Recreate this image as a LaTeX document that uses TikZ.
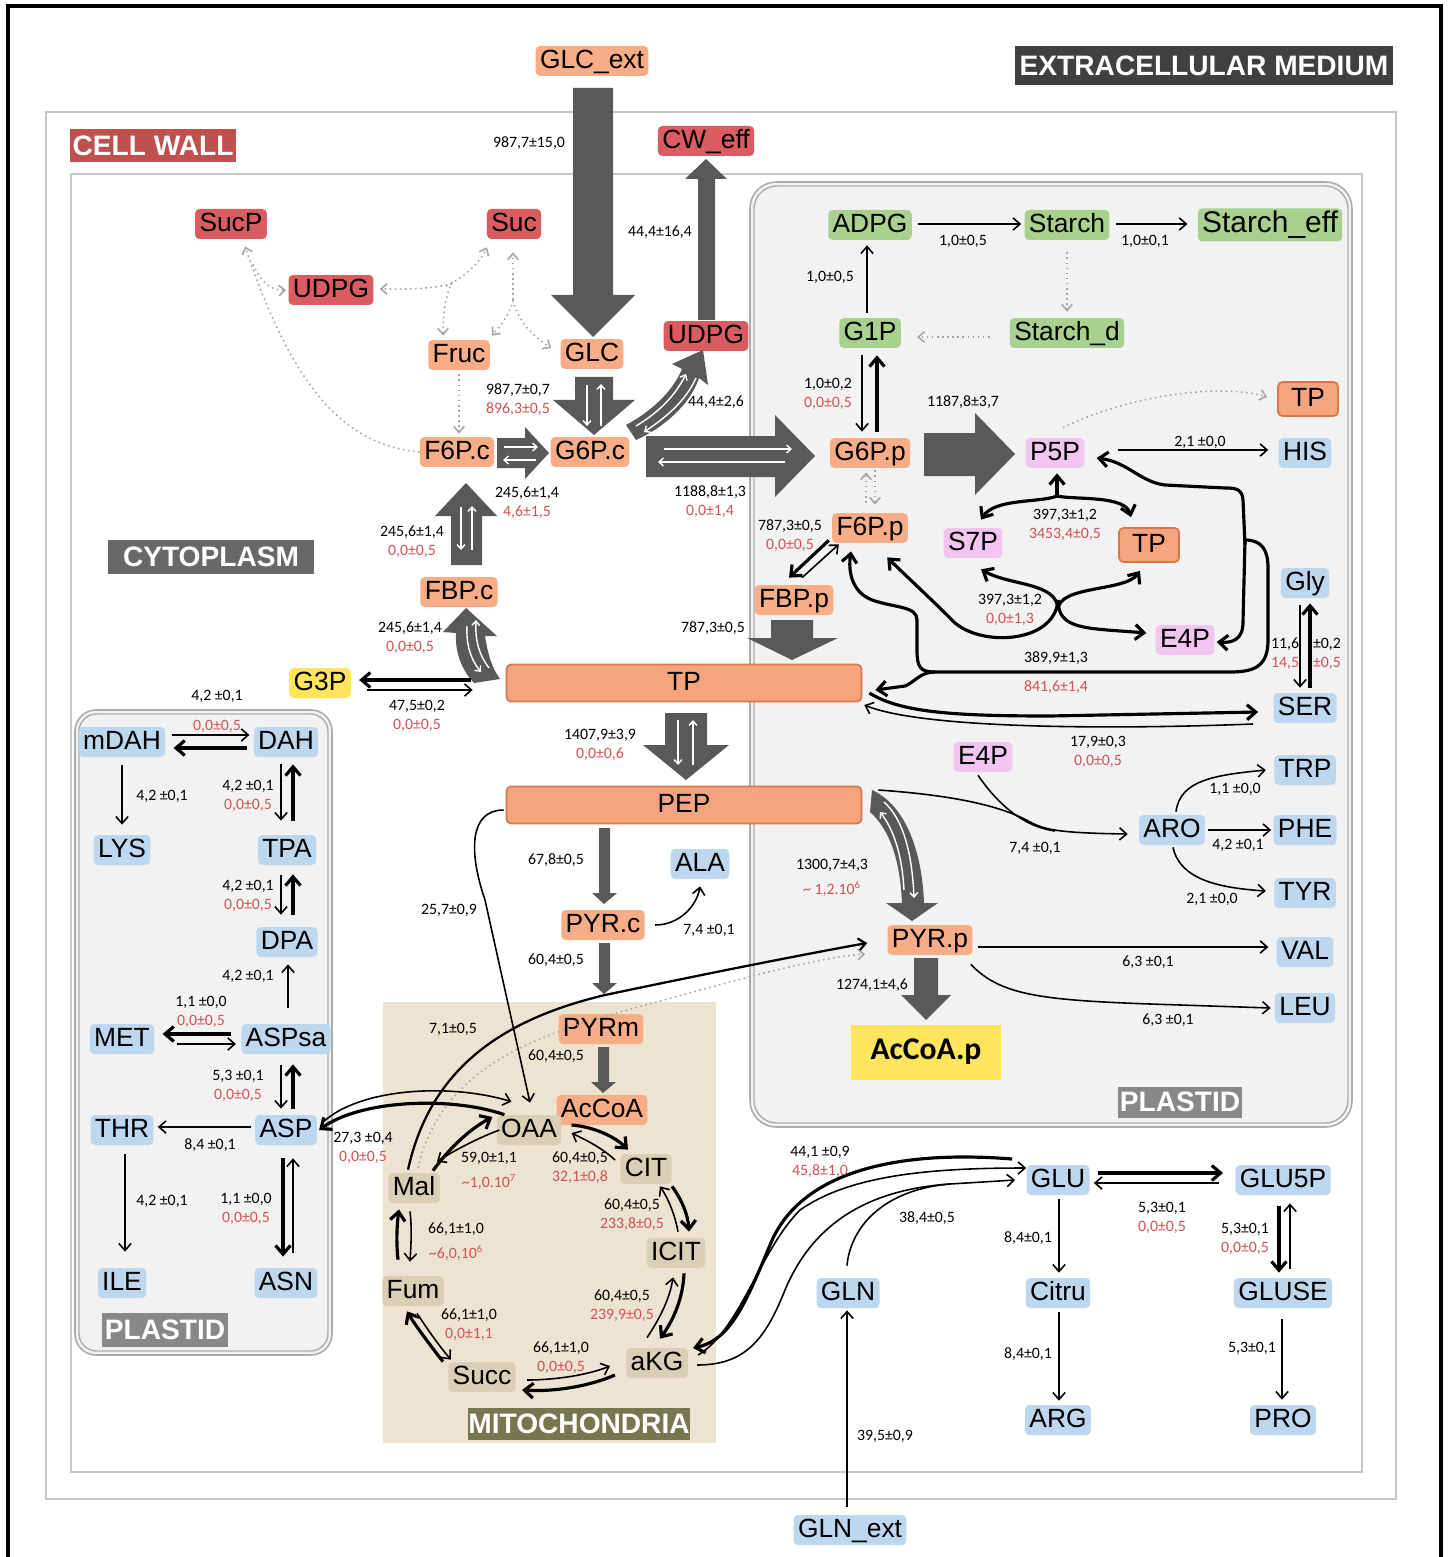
\documentclass[tikz,border=0pt]{standalone}
\usepackage{fontspec}
\setmainfont{Liberation Sans}
\newfontfamily\calf{Carlito}
\usetikzlibrary{arrows.meta,calc}
\definecolor{cor}{HTML}{F8AD86}
\definecolor{corb}{HTML}{F4A57D}
\definecolor{cord}{HTML}{D9774B}
\definecolor{cred}{HTML}{DB5C60}
\definecolor{cgreen}{HTML}{A9D18E}
\definecolor{cblue}{HTML}{BDD7EE}
\definecolor{cpink}{HTML}{F2C4F0}
\definecolor{cyel}{HTML}{FFE55C}
\definecolor{mitobg}{HTML}{EDE3D1}
\definecolor{miton}{HTML}{D8CFB4}
\definecolor{plbg}{HTML}{F2F2F2}
\definecolor{bigg}{HTML}{595959}
\definecolor{dotg}{HTML}{A6A6A6}
\definecolor{numred}{HTML}{D25252}
\definecolor{lbcyto}{HTML}{686868}
\definecolor{lbpl}{HTML}{888888}
\definecolor{lbext}{HTML}{404040}
\definecolor{lbcw}{HTML}{C0504D}
\definecolor{lbmito}{HTML}{77774F}
\newcounter{lbc}
\newcommand\lb[2]{\stepcounter{lbc}\node[nlab] (lb\arabic{lbc}) at (#1) {#2};}
\newcommand\lr[2]{\stepcounter{lbc}\node[rlab] (lb\arabic{lbc}) at (#1) {#2};}
\newcommand\lbr[4]{\lb{#1,#2}{#3}\lr{#1,#2+19}{#4}}
\begin{document}
\begin{tikzpicture}[x=0.02cm,y=-0.02cm,
 mbox/.style={rounded corners=2.5pt, inner xsep=2.5pt, inner ysep=0pt, minimum height=0.6cm,
   font=\fontsize{15}{15}\selectfont, text height=11pt, text depth=3pt},
 bigbox/.style={mbox, fill=corb, draw=cord, line width=1pt, minimum width=7.1cm, minimum height=0.74cm},
 tpbox/.style={mbox, fill=corb, draw=cord, line width=1pt, minimum width=1.2cm, minimum height=0.68cm},
 zlab/.style={font=\bfseries\fontsize{16}{16}\selectfont, text=white, inner sep=0pt},
 nlab/.style={font=\calf\fontsize{9}{9.5}\selectfont, inner sep=0pt},
 rlab/.style={nlab, text=numred},
 arw/.style={-{Straight Barb[length=4pt,width=7pt]}, line width=0.9pt},
 tkw/.style={-{Straight Barb[length=5pt,width=8.5pt]}, line width=1.8pt},
 dtw/.style={-{Straight Barb[length=3.5pt,width=6pt]}, line width=0.9pt, draw=dotg, dotted},
 wht/.style={draw=white, line width=0.8pt, -{Straight Barb[length=2.5pt,width=4.5pt]}},
 bga/.style={fill=bigg}]
\useasboundingbox (0,0) rectangle (1448,1557);
\fill[white] (0,0) rectangle (1448,1557);
% frames
\draw[line width=2.4pt] (8,1570) -- (8,6) -- (1441,6) -- (1441,1570);
\draw[gray!45, line width=1.2pt] (46,112) rectangle (1396,1499);
\draw[gray!45, line width=1.2pt] (71,174) rectangle (1362,1472);
% compartments
\filldraw[fill=plbg, draw=gray!65, line width=0.9pt, rounded corners=15pt] (750,182) rectangle (1352,1127);
\draw[gray!65, line width=0.8pt, rounded corners=13pt] (754,186) rectangle (1348,1123);
\filldraw[fill=plbg, draw=gray!65, line width=0.9pt, rounded corners=12pt] (75,710) rectangle (332,1355);
\draw[gray!65, line width=0.8pt, rounded corners=10pt] (79,714) rectangle (328,1351);
\fill[mitobg] (383,1002) rectangle (716,1443);
% compartment labels
\node[zlab, fill=lbext, minimum width=7.56cm, minimum height=0.78cm] (LEXT) at (1204,66) {EXTRACELLULAR MEDIUM};
\node[zlab, fill=lbcw, minimum width=3.34cm, minimum height=0.66cm] (LCW) at (153,146) {CELL WALL};
\node[zlab, fill=lbcyto, minimum width=4.12cm, minimum height=0.7cm] (LCY) at (211,557) {CYTOPLASM};
\node[zlab, fill=lbpl, minimum width=2.48cm, minimum height=0.62cm] (LPR) at (1180,1102) {PLASTID};
\node[zlab, fill=lbpl, minimum width=2.52cm, minimum height=0.68cm] (LPL) at (165,1330) {PLASTID};
\node[zlab, fill=lbmito, minimum width=4.44cm, minimum height=0.64cm] (LMI) at (579,1424) {MITOCHONDRIA};
% metabolites: cytoplasm / cell wall
\node[mbox,fill=cor] (GLCext) at (592,61) {GLC\_ext};
\node[mbox,fill=cred] (CWeff) at (706,141) {CW\_eff};
\node[mbox,fill=cred] (SucP) at (231,224) {SucP};
\node[mbox,fill=cred] (Suc) at (514,224) {Suc};
\node[mbox,fill=cred] (UDPGw) at (331,290) {UDPG};
\node[mbox,fill=cor] (Fruc) at (459,355) {Fruc};
\node[mbox,fill=cor] (GLC) at (592,354) {GLC};
\node[mbox,fill=cred] (UDPGc) at (706,336) {UDPG};
\node[mbox,fill=cor] (F6Pc) at (457,452) {F6P.c};
\node[mbox,fill=cor] (G6Pc) at (590,452) {G6P.c};
\node[mbox,fill=cor] (FBPc) at (459,592) {FBP.c};
\node[mbox,fill=cyel] (G3P) at (320,683) {G3P};
\node[bigbox] (TPc) at (684,683) {TP};
\node[bigbox] (PEP) at (684,805) {PEP};
\node[mbox,fill=cor] (PYRc) at (603,925) {PYR.c};
\node[mbox,fill=cblue] (ALA) at (700,864) {ALA};
% left plastid
\node[mbox,fill=cblue] (mDAH) at (122,742) {mDAH};
\node[mbox,fill=cblue] (DAH) at (286,742) {DAH};
\node[mbox,fill=cblue] (LYS) at (122,850) {LYS};
\node[mbox,fill=cblue] (TPA) at (287,850) {TPA};
\node[mbox,fill=cblue] (DPA) at (287,942) {DPA};
\node[mbox,fill=cblue] (MET) at (122,1039) {MET};
\node[mbox,fill=cblue] (ASPsa) at (286,1039) {ASPsa};
\node[mbox,fill=cblue] (THR) at (122,1130) {THR};
\node[mbox,fill=cblue] (ASP) at (286,1130) {ASP};
\node[mbox,fill=cblue] (ILE) at (122,1283) {ILE};
\node[mbox,fill=cblue] (ASN) at (286,1283) {ASN};
% mitochondria
\node[mbox,fill=cor] (PYRm) at (601,1029) {PYRm};
\node[mbox,fill=cor] (AcCoA) at (602,1110) {AcCoA};
\node[mbox,fill=miton] (OAA) at (529,1130) {OAA};
\node[mbox,fill=miton] (CIT) at (646,1169) {CIT};
\node[mbox,fill=miton] (ICIT) at (676,1253) {ICIT};
\node[mbox,fill=miton] (aKG) at (657,1363) {aKG};
\node[mbox,fill=miton] (Succ) at (482,1377) {Succ};
\node[mbox,fill=miton] (Fum) at (413,1291) {Fum};
\node[mbox,fill=miton] (Mal) at (414,1188) {Mal};
% right plastid
\node[mbox,fill=cgreen] (ADPG) at (870,225) {ADPG};
\node[mbox,fill=cgreen] (Starch) at (1067,225) {Starch};
\node[mbox,fill=cgreen, font=\fontsize{17}{17}\selectfont, minimum height=0.66cm] (Starcheff) at (1270,225) {Starch\_eff};
\node[mbox,fill=cgreen] (Starchd) at (1067,333) {Starch\_d};
\node[mbox,fill=cgreen] (G1P) at (870,333) {G1P};
\node[mbox,fill=cor] (G6Pp) at (870,453) {G6P.p};
\node[mbox,fill=cor] (F6Pp) at (870,528) {F6P.p};
\node[mbox,fill=cor] (FBPp) at (794,600) {FBP.p};
\node[mbox,fill=cpink] (P5P) at (1055,453) {P5P};
\node[tpbox] (TPt) at (1308,399) {TP};
\node[mbox,fill=cblue] (HIS) at (1305,453) {HIS};
\node[mbox,fill=cpink] (S7P) at (973,543) {S7P};
\node[tpbox] (TPm) at (1149,545) {TP};
\node[mbox,fill=cpink] (E4Pa) at (1185,640) {E4P};
\node[mbox,fill=cblue] (Gly) at (1305,583) {Gly};
\node[mbox,fill=cblue] (SER) at (1305,708) {SER};
\node[mbox,fill=cpink] (E4Pb) at (983,757) {E4P};
\node[mbox,fill=cblue] (ARO) at (1172,830) {ARO};
\node[mbox,fill=cblue] (TRP) at (1305,770) {TRP};
\node[mbox,fill=cblue] (PHE) at (1305,830) {PHE};
\node[mbox,fill=cblue] (TYR) at (1305,893) {TYR};
\node[mbox,fill=cblue] (VAL) at (1305,952) {VAL};
\node[mbox,fill=cblue] (LEU) at (1305,1008) {LEU};
\node[mbox,fill=cor] (PYRp) at (930,940) {PYR.p};
\node[fill=cyel, minimum width=3.0cm, minimum height=1.1cm, inner sep=0pt, font=\calf\bfseries\fontsize{18}{18}\selectfont] (AcCoAp) at (926,1052) {AcCoA.p};
% bottom
\node[mbox,fill=cblue] (GLU) at (1058,1180) {GLU};
\node[mbox,fill=cblue] (GLU5P) at (1283,1180) {GLU5P};
\node[mbox,fill=cblue] (Citru) at (1058,1293) {Citru};
\node[mbox,fill=cblue] (GLUSE) at (1283,1293) {GLUSE};
\node[mbox,fill=cblue] (ARG) at (1058,1420) {ARG};
\node[mbox,fill=cblue] (PRO) at (1283,1420) {PRO};
\node[mbox,fill=cblue] (GLN) at (848,1293) {GLN};
\node[mbox,fill=cblue] (GLNext) at (850,1530) {GLN\_ext};

% ===== big grey arrows =====
\fill[bga] (573,88) -- (613,88) -- (613,295) -- (635,295) -- (593,337) -- (551,295) -- (573,295) -- cycle;
\fill[bga] (698,320) -- (715,320) -- (715,179) -- (727,179) -- (706,159) -- (685,179) -- (698,179) -- cycle;
\fill[bga] (575,377) -- (613,377) -- (613,400) -- (635,400) -- (594,435) -- (553,400) -- (575,400) -- cycle;
\draw[wht] (587,385) -- (587,426); \draw[wht] (601,426) -- (601,384);
\fill[bga] (497,438) -- (525,438) -- (525,427) -- (549,453) -- (525,479) -- (525,468) -- (497,468) -- cycle;
\draw[wht] (504,447) -- (538,447); \draw[wht] (536,460) -- (503,460);
\fill[bga] (646,436) -- (775,436) -- (775,415) -- (815,456) -- (775,497) -- (775,477) -- (646,477) -- cycle;
\draw[wht] (664,449) -- (792,449); \draw[wht] (785,462) -- (658,462);
\fill[bga] (451,565) -- (482,565) -- (482,516) -- (497,516) -- (466,483) -- (435,516) -- (451,516) -- cycle;
\draw[wht] (461,507) -- (461,550); \draw[wht] (472,550) -- (472,506);
\fill[bga] (474,683) .. controls (460,668) and (455,650) .. (456,633) -- (443,632) -- (466,608) -- (497,636) -- (485,636) .. controls (488,655) and (492,668) .. (500,679) -- cycle;
\draw[wht] (467,626) .. controls (466,645) and (471,660) .. (481,672);
\draw[wht] (489,668) .. controls (479,655) and (475,640) .. (476,620);
\fill[bga] (626,425) .. controls (650,412) and (672,393) .. (682,369) -- (672,364) -- (703,350) -- (708,385) -- (699,378) .. controls (690,405) and (663,428) .. (636,440) -- cycle;
\draw[wht] (636,426) .. controls (656,414) and (674,398) .. (686,374);
\draw[wht] (696,378) .. controls (686,400) and (668,416) .. (644,432);
\fill[bga] (665,713) -- (707,713) -- (707,745) -- (729,745) -- (686,780) -- (643,745) -- (665,745) -- cycle;
\draw[wht] (678,720) -- (678,765); \draw[wht] (693,765) -- (693,720);
\fill[bga] (771,620) -- (813,620) -- (813,638) -- (838,638) -- (792,660) -- (747,638) -- (771,638) -- cycle;
\fill[bga] (924,433) -- (975,433) -- (975,413) -- (1015,454) -- (975,495) -- (975,476) -- (924,476) -- cycle;
\fill[bga] (872,790) .. controls (905,805) and (922,850) .. (924,903) -- (938,903) -- (912,921) -- (886,903) -- (902,903) .. controls (900,860) and (890,830) .. (870,812) -- cycle;
\draw[wht] (884,802) .. controls (902,818) and (912,850) .. (914,898);
\draw[wht] (904,890) .. controls (902,855) and (894,830) .. (880,812);
\fill[bga] (914,958) -- (938,958) -- (938,995) -- (951,995) -- (926,1020) -- (901,995) -- (914,995) -- cycle;
\fill[bga] (599,828) -- (610,828) -- (610,893) -- (617,893) -- (604,904) -- (592,893) -- (599,893) -- cycle;
\fill[bga] (599,943) -- (610,943) -- (610,983) -- (617,983) -- (604,994) -- (592,983) -- (599,983) -- cycle;
\fill[bga] (598,1047) -- (609,1047) -- (609,1082) -- (616,1082) -- (603,1093) -- (591,1082) -- (598,1082) -- cycle;

% ===== dotted grey (cell wall / cytoplasm) =====
\draw[dtw] (F6Pc.west) .. controls (340,445) and (290,380) .. ($(SucP.south)+(14,7)$);
\draw[dtw] ($(SucP.south)+(22,25)$) .. controls (262,284) and (272,291) .. ($(UDPGw.west)+(-2,0)$);
\draw[dtw] (452,284) .. controls (425,290) and (400,289) .. ($(UDPGw.east)+(6,-1)$);
\draw[dtw] (446,286) .. controls (465,277) and (480,262) .. ($(Suc.south)+(-27,8)$);
\draw[dtw] (452,282) .. controls (444,300) and (443,318) .. ($(Fruc.north)+(-16,-4)$);
\draw[dtw] (513,300) -- ($(Suc.south)+(-1,13)$);
\draw[dtw] (513,300) .. controls (510,315) and (500,326) .. ($(Fruc.north)+(33,-4)$);
\draw[dtw] (513,300) .. controls (518,322) and (535,338) .. ($(GLC.west)+(-9,-6)$);
\draw[dtw] ($(Fruc.south)+(0,4)$) -- ($(F6Pc.north)+(2,-3)$);
% G3P
\draw[tkw] ($(TPc.west)+(-35,-3)$) -- ($(G3P.east)+(8,-3)$);
\draw[arw] ($(G3P.east)+(16,7)$) -- ($(TPc.west)+(-33,7)$);
% PEP branches
\draw[arw] ($(PYRc.east)+(10,0)$) .. controls (680,925) and (697,905) .. ($(ALA.south)+(0,7)$);
\draw[arw] ($(PEP.west)+(-2,5)$) .. controls (470,810) and (468,850) .. (485,900) -- ($(OAA.north)+(1,-12)$);
\draw[arw, line width=1.3pt] ($(Mal.north)+(-6,-3)$) .. controls (430,1070) and (500,1020) .. (605,995) .. controls (700,975) and (800,955) .. ($(PYRp.west)+(-20,3)$);
\draw[dtw] ($(Mal.north)+(4,-5)$) .. controls (440,1075) and (520,1040) .. (620,1012) .. controls (720,985) and (810,958) .. ($(PYRp.west)+(-22,14)$);
% ASP <-> OAA
\draw[arw] ($(ASP.east)+(6,-8)$) .. controls (360,1088) and (450,1083) .. ($(OAA.north west)+(15,-13)$);
\draw[tkw] ($(OAA.north west)+(8,0)$) .. controls (450,1096) and (360,1100) .. ($(ASP.east)+(2,0)$);
% TCA
\draw[tkw] ($(OAA.east)+(10,-5)$) .. controls (595,1127) and (615,1137) .. ($(CIT.north west)+(8,-4)$);
\draw[arw] ($(CIT.west)+(-5,-9)$) .. controls (602,1148) and (588,1141) .. ($(OAA.east)+(10,3)$);
\draw[tkw] ($(CIT.south east)+(0,2)$) .. controls (682,1200) and (688,1215) .. ($(ICIT.north)+(13,-6)$);
\draw[arw] ($(ICIT.north)+(2,-6)$) .. controls (675,1215) and (668,1198) .. ($(CIT.south)+(14,2)$);
\draw[tkw] ($(ICIT.south)+(8,5)$) .. controls (683,1300) and (672,1322) .. ($(aKG.north)+(3,-9)$);
\draw[arw] ($(aKG.north)+(-10,-10)$) .. controls (660,1318) and (670,1298) .. ($(ICIT.south)+(-3,9)$);
\draw[tkw] ($(aKG.west)+(-11,12)$) .. controls (590,1386) and (555,1392) .. ($(Succ.east)+(6,13)$);
\draw[arw] ($(Succ.east)+(11,3)$) .. controls (555,1380) and (588,1375) .. ($(aKG.west)+(-16,3)$);
\draw[tkw] ($(Succ.north west)+(-5,0)$) .. controls (430,1345) and (415,1325) .. ($(Fum.south)+(-6,5)$);
\draw[arw] ($(Fum.south)+(4,7)$) .. controls (428,1330) and (440,1347) .. ($(Succ.north west)+(3,-2)$);
\draw[tkw] ($(Fum.north)+(-15,-16)$) .. controls (396,1240) and (397,1225) .. ($(Mal.south)+(-15,6)$);
\draw[arw] ($(Mal.south)+(-4,8)$) .. controls (412,1228) and (411,1245) .. ($(Fum.north)+(-3,-14)$);
\draw[tkw] ($(Mal.north east)+(-7,-2)$) .. controls (448,1150) and (468,1130) .. ($(OAA.west)+(-4,-13)$);
\draw[arw] ($(OAA.west)+(3,0)$) .. controls (478,1138) and (455,1150) .. ($(Mal.north east)+(-3,-11)$);
% left plastid
\draw[arw] ($(mDAH.east)+(6,-7)$) -- ($(DAH.west)+(-4,-7)$);
\draw[tkw] ($(DAH.west)+(-6,6)$) -- ($(mDAH.east)+(8,6)$);
\draw[arw] ($(mDAH.south)+(0,8)$) -- ($(LYS.north)+(0,-10)$);
\draw[arw] ($(DAH.south)+(-5,7)$) -- ($(TPA.north)+(-6,-14)$);
\draw[tkw] ($(TPA.north)+(6,-14)$) -- ($(DAH.south)+(7,7)$);
\draw[arw] ($(TPA.south)+(-6,10)$) -- ($(DPA.north)+(-6,-12)$);
\draw[tkw] ($(DPA.north)+(6,-12)$) -- ($(TPA.south)+(6,9)$);
\draw[arw] ($(ASPsa.north)+(2,-16)$) -- ($(DPA.south)+(1,7)$);
\draw[tkw] ($(ASPsa.west)+(-10,-5)$) -- ($(MET.east)+(8,-5)$);
\draw[arw] ($(MET.east)+(22,5)$) -- ($(ASPsa.west)+(-5,5)$);
\draw[arw] ($(ASPsa.south)+(-5,11)$) -- ($(ASP.north)+(-5,-6)$);
\draw[tkw] ($(ASP.north)+(7,-6)$) -- ($(ASPsa.south)+(7,10)$);
\draw[arw] ($(ASP.west)+(-4,-3)$) -- ($(THR.east)+(4,-3)$);
\draw[arw] ($(THR.south)+(3,9)$) -- ($(ILE.north)+(3,-16)$);
\draw[tkw] ($(ASP.south)+(-3,13)$) -- ($(ASN.north)+(-3,-11)$);
\draw[arw] ($(ASN.north)+(7,-15)$) -- ($(ASP.south)+(7,13)$);
% right plastid
\draw[arw] ($(ADPG.east)+(6,-1)$) -- ($(Starch.west)+(-3,-1)$);
\draw[arw] ($(Starch.east)+(6,-1)$) -- ($(Starcheff.west)+(-10,-1)$);
\draw[dtw] ($(Starch.south)+(0,12)$) -- ($(Starchd.north)+(0,-6)$);
\draw[dtw] ($(Starchd.west)+(-20,4)$) -- ($(G1P.east)+(16,4)$);
\draw[arw] ($(G1P.north)+(-3,-5)$) -- ($(ADPG.south)+(-3,5)$);
\draw[arw] ($(G1P.south)+(-8,7)$) -- ($(G6Pp.north)+(-8,-6)$);
\draw[tkw] ($(G6Pp.north)+(7,-6)$) -- ($(G1P.south)+(7,7)$);
\draw[dtw] ($(F6Pp.north)+(-4,-10)$) -- ($(G6Pp.south)+(-4,4)$);
\draw[dtw] ($(G6Pp.south)+(5,2)$) -- ($(F6Pp.north)+(5,-8)$);
\draw[tkw] ($(F6Pp.south west)+(-3,-3)$) -- ($(FBPp.north)+(-5,-7)$);
\draw[arw] ($(FBPp.north)+(8,-7)$) -- ($(F6Pp.south west)+(7,1)$);
\draw[arw] ($(P5P.east)+(33,-3)$) -- ($(HIS.west)+(-10,-3)$);
\draw[dtw] ($(P5P.north)+(8,-10)$) .. controls (1130,395) and (1220,383) .. ($(TPt.west)+(-10,-2)$);
% P5P -> S7P + TP
\draw[tkw] (1057,496) -- ($(P5P.south)+(2,5)$);
\draw[tkw] (1057,496) .. controls (1040,503) and (995,498) .. ($(S7P.north)+(8,-8)$);
\draw[tkw] (1057,496) .. controls (1075,500) and (1125,495) .. ($(TPm.north)+(-18,-10)$);
% S7P + TP -> E4P + F6P
\draw[tkw] (1058,610) .. controls (1058,582) and (1010,586) .. ($(S7P.south)+(8,11)$);
\draw[tkw] (1058,610) .. controls (1058,585) and (1125,592) .. ($(TPm.south)+(-9,8)$);
\draw[tkw] (1058,600) .. controls (1058,630) and (1085,628) .. ($(E4Pa.west)+(-9,-7)$);
\draw[tkw] (1058,600) .. controls (1055,645) and (975,648) .. (950,618) .. controls (930,598) and (905,575) .. ($(F6Pp.south east)+(-21,14)$);
% transketolase 2
\draw[tkw] (1245,545) -- (1243,500) .. controls (1242,489) and (1236,488) .. (1225,488) -- (1165,485) .. controls (1140,482) and (1128,462) .. ($(P5P.east)+(12,5)$);
\draw[tkw] (1245,540) -- (1243,622) .. controls (1243,640) and (1232,643) .. ($(E4Pa.east)+(2,2)$);
\draw[line width=1.8pt] (1245,540) .. controls (1262,540) and (1268,550) .. (1268,568) -- (1268,640) .. controls (1268,666) and (1255,672) .. (1230,672) -- (935,672);
\draw[tkw] (935,672) .. controls (920,672) and (917,667) .. (917,650) -- (917,620) .. controls (917,606) and (895,608) .. (872,600) .. controls (852,592) and (848,572) .. ($(F6Pp.south)+(-19,8)$);
\draw[tkw] (935,672) .. controls (920,672) and (915,682) .. (905,686) -- ($(TPc.east)+(13,7)$);
% TP <-> SER, Gly <-> SER
\draw[tkw] ($(TPc.east)+(7,10)$) .. controls (900,712) and (950,716) .. (1050,716) -- ($(SER.west)+(-15,4)$);
\draw[arw] ($(SER.west)+(-20,16)$) .. controls (1100,730) and (920,728) .. ($(TPc.east)+(2,22)$);
\draw[arw] ($(Gly.south)+(-5,7)$) -- ($(SER.north)+(-5,-5)$);
\draw[tkw] ($(SER.north)+(5,-5)$) -- ($(Gly.south)+(5,5)$);
% aromatic
\draw[arw] ($(PEP.east)+(16,-15)$) .. controls (950,795) and (1000,805) .. (1030,822) .. controls (1045,830) and (1060,833) .. ($(ARO.west)+(-11,4)$);
\draw[line width=0.9pt] ($(E4Pb.south)+(-5,3)$) .. controls (995,800) and (1020,826) .. (1055,831);
\draw[arw] ($(ARO.north)+(4,-3)$) .. controls (1180,780) and (1215,775) .. ($(TRP.west)+(-8,0)$);
\draw[arw] ($(ARO.east)+(3,0)$) -- ($(PHE.west)+(-2,0)$);
\draw[arw] ($(ARO.south)+(1,2)$) .. controls (1180,880) and (1220,888) .. ($(TYR.west)+(-8,-2)$);
\draw[arw] ($(PYRp.east)+(5,7)$) -- ($(VAL.west)+(-8,-5)$);
\draw[arw] ($(PYRp.south east)+(-2,9)$) .. controls (1000,995) and (1040,1000) .. (1150,1004) -- ($(LEU.west)+(-4,0)$);
% bottom amino acids
\draw[tkw] ($(GLU.east)+(8,-7)$) -- ($(GLU5P.west)+(-12,-7)$);
\draw[arw] ($(GLU5P.west)+(-16,3)$) -- ($(GLU.east)+(4,3)$);
\draw[arw] ($(GLU.south)+(1,4)$) -- ($(Citru.north)+(1,-5)$);
\draw[arw] ($(Citru.south)+(1,4)$) -- ($(ARG.north)+(1,-4)$);
\draw[tkw] ($(GLU5P.south)+(-4,11)$) -- ($(GLUSE.north)+(-4,-5)$);
\draw[arw] ($(GLUSE.north)+(7,-9)$) -- ($(GLU5P.south)+(7,8)$);
\draw[arw] ($(GLUSE.south)+(-1,11)$) -- ($(PRO.north)+(-1,-5)$);
\draw[arw] ($(GLNext.north)+(-3,-8)$) -- ($(GLN.south)+(-1,2)$);
\draw[arw] ($(GLN.north)+(-1,-12)$) .. controls (850,1230) and (880,1190) .. (950,1184) -- ($(GLU.west)+(-11,0)$);
\draw[tkw] ($(GLU.west)+(-14,-21)$) .. controls (900,1150) and (800,1170) .. (770,1245) .. controls (745,1305) and (730,1340) .. ($(aKG.east)+(5,-15)$);
\draw[arw] ($(aKG.east)+(10,-8)$) .. controls (740,1330) and (760,1250) .. (800,1210) .. controls (850,1175) and (930,1168) .. ($(GLU.west)+(0,-12)$);
\draw[line width=0.9pt] ($(aKG.east)+(9,2)$) .. controls (745,1365) and (765,1340) .. (785,1290) .. controls (810,1230) and (860,1190) .. (950,1184);

% ===== flux labels =====
\lb{529,143}{987,7±15,0}
\lb{660,232}{44,4±16,4}
\lbr{518}{390}{987,7±0,7}{896,3±0,5}
\lb{716,402}{44,4±2,6}
\lbr{527}{493}{245,6±1,4}{4,6±1,5}
\lbr{710}{492}{1188,8±1,3}{0,0±1,4}
\lbr{412}{532}{245,6±1,4}{0,0±0,5}
\lbr{410}{628}{245,6±1,4}{0,0±0,5}
\lbr{417}{706}{47,5±0,2}{0,0±0,5}
\lb{217,696}{4,2 ±0,1}\lr{217,726}{0,0±0,5}
\lb{162,796}{4,2 ±0,1}
\lbr{248}{786}{4,2 ±0,1}{0,0±0,5}
\lbr{248}{886}{4,2 ±0,1}{0,0±0,5}
\lb{248,976}{4,2 ±0,1}
\lbr{201}{1002}{1,1 ±0,0}{0,0±0,5}
\lbr{238}{1076}{5,3 ±0,1}{0,0±0,5}
\lb{210,1145}{8,4 ±0,1}
\lb{162,1201}{4,2 ±0,1}
\lbr{246}{1199}{1,1 ±0,0}{0,0±0,5}
\lbr{363}{1138}{27,3 ±0,4}{0,0±0,5}
\lb{489,1158}{59,0±1,1}\lr{489,1182}{\textasciitilde1,0.10\textsuperscript{7}}
\lbr{580}{1158}{60,4±0,5}{32,1±0,8}
\lbr{632}{1205}{60,4±0,5}{233,8±0,5}
\lb{456,1229}{66,1±1,0}\lr{456,1253}{\textasciitilde6,0,10\textsuperscript{6}}
\lbr{622}{1296}{60,4±0,5}{239,9±0,5}
\lbr{469}{1315}{66,1±1,0}{0,0±1,1}
\lbr{561}{1348}{66,1±1,0}{0,0±0,5}
\lb{453,1029}{7,1±0,5}
\lb{556,1056}{60,4±0,5}
\lb{449,910}{25,7±0,9}
\lb{556,860}{67,8±0,5}
\lb{556,960}{60,4±0,5}
\lb{709,930}{7,4 ±0,1}
\lbr{600}{735}{1407,9±3,9}{0,0±0,6}
\lb{713,628}{787,3±0,5}
\lbr{790}{526}{787,3±0,5}{0,0±0,5}
\lbr{828}{384}{1,0±0,2}{0,0±0,5}
\lb{830,277}{1,0±0,5}
\lb{963,241}{1,0±0,5}
\lb{1145,241}{1,0±0,1}
\lb{963,402}{1187,8±3,7}
\lb{1200,442}{2,1 ±0,0}
\lbr{1065}{515}{397,3±1,2}{3453,4±0,5}
\lbr{1010}{600}{397,3±1,2}{0,0±1,3}
\lb{1056,658}{389,9±1,3}\lr{1056,687}{841,6±1,4}
\lb{1285,644}{11,6}\lb{1327,644}{±0,2}\lr{1285,663}{14,5}\lr{1327,663}{±0,5}
\lbr{1098}{742}{17,9±0,3}{0,0±0,5}
\lb{1235,789}{1,1 ±0,0}
\lb{1238,845}{4,2 ±0,1}
\lb{1212,899}{2,1 ±0,0}
\lb{1035,848}{7,4 ±0,1}
\lb{832,865}{1300,7±4,3}\lr{832,889}{\textasciitilde{} 1,2.10\textsuperscript{6}}
\lb{872,985}{1274,1±4,6}
\lb{1148,962}{6,3 ±0,1}
\lb{1168,1020}{6,3 ±0,1}
\lbr{820}{1152}{44,1 ±0,9}{45,8±1,0}
\lb{927,1218}{38,4±0,5}
\lbr{1162}{1208}{5,3±0,1}{0,0±0,5}
\lb{1028,1238}{8,4±0,1}
\lb{1028,1354}{8,4±0,1}
\lbr{1245}{1229}{5,3±0,1}{0,0±0,5}
\lb{1252,1348}{5,3±0,1}
\lb{885,1436}{39,5±0,9}
\end{tikzpicture}
\end{document}
